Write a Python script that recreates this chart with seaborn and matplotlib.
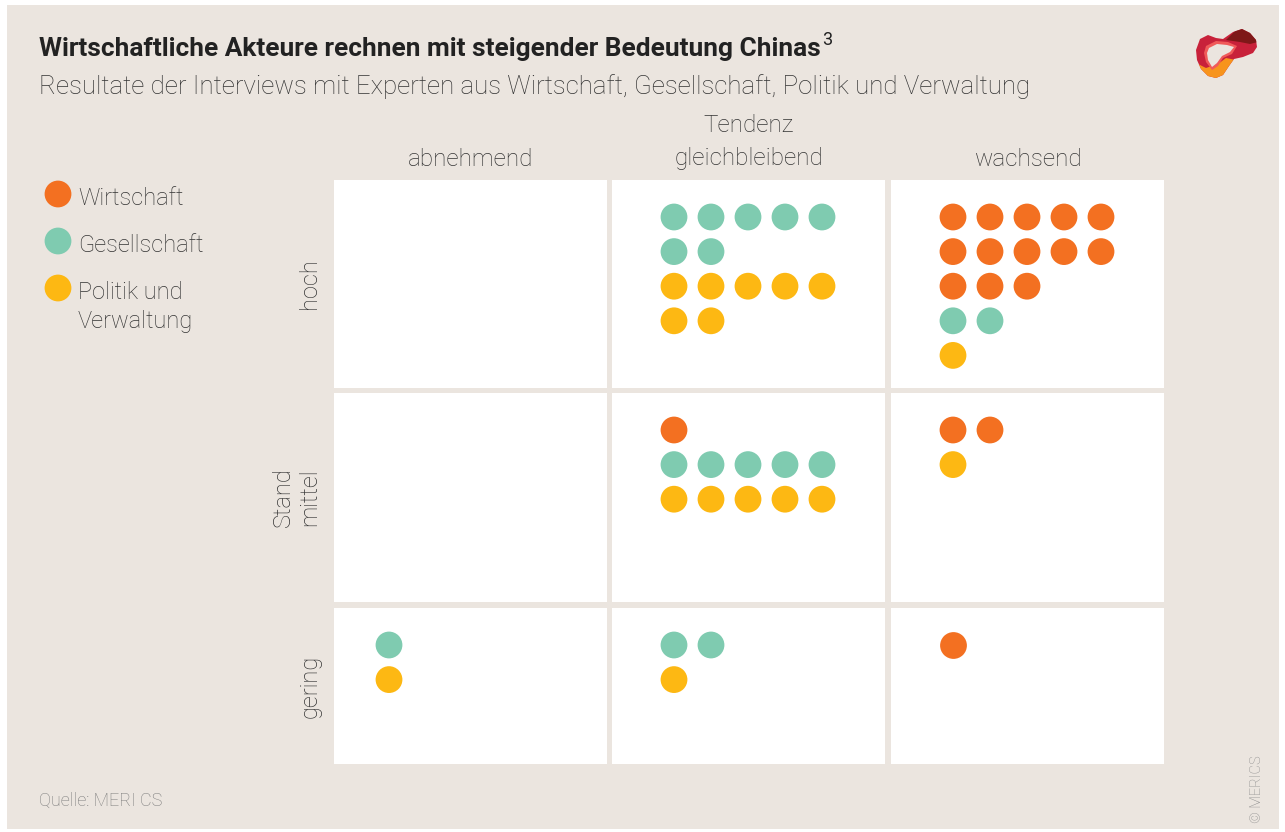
import numpy as np
import pandas as pd
import seaborn as sns
import matplotlib.pyplot as plt
from matplotlib import font_manager
from matplotlib.patches import Rectangle, Polygon

# ---------------- data ----------------
levels = ["hoch", "mittel", "gering"]              # rows (Stand)
trends = ["abnehmend", "gleichbleibend", "wachsend"]  # columns (Tendenz)
groups = ["Wirtschaft", "Gesellschaft", "Politik und Verwaltung"]
legend_lines = [["Wirtschaft"], ["Gesellschaft"], ["Politik und", "Verwaltung"]]

# counts per cell, rows = levels, cols = trends
wirtschaft = [[0, 0, 13],
              [0, 1, 2],
              [0, 0, 1]]
gesellschaft = [[0, 7, 2],
                [0, 5, 0],
                [1, 2, 0]]
politik = [[0, 7, 1],
           [0, 5, 1],
           [1, 1, 0]]
counts = {"Wirtschaft": wirtschaft, "Gesellschaft": gesellschaft,
          "Politik und Verwaltung": politik}

title = "Wirtschaftliche Akteure rechnen mit steigender Bedeutung Chinas"
title_sup = "3"
subtitle = "Resultate der Interviews mit Experten aus Wirtschaft, Gesellschaft, Politik und Verwaltung"
source = "Quelle: MERI CS"
credit = "© MERICS"

colors = ["#F37021", "#7FCBB0", "#FDB813"]
palette = dict(zip(groups, colors))
BEIGE = "#EBE5DF"
TXT = "#333333"

# ---------------- style ----------------
sns.set_theme(style="white")
avail = {f.name for f in font_manager.fontManager.ttflist}
fam = next((f for f in ["Roboto", "Open Sans", "DejaVu Sans"] if f in avail), "DejaVu Sans")
plt.rcParams["font.family"] = [fam, "DejaVu Sans"]

W, H = 1285, 832
fig = plt.figure(figsize=(W / 100, H / 100), dpi=100, facecolor="white")

def rect(x, y, w, h):
    return [x / W, 1 - (y + h) / H, w / W, h / H]

bg = fig.add_axes([0, 0, 1, 1])
bg.set_xlim(0, W)
bg.set_ylim(H, 0)
bg.axis("off")
bg.add_patch(Rectangle((7, 5), 1272, 824, facecolor=BEIGE, edgecolor="none"))

# ---------------- grid of cells ----------------
col_lefts = [334, 612, 891]
col_w = 273
row_tops = [180, 393, 608]
row_hs = [208, 209, 156]
x_first = [55, 62, 62]
y_first = 37
dx, dy = 37, 34.6
per_row = 5

for i, lev in enumerate(levels):
    for j, tr in enumerate(trends):
        recs = []
        r0 = 0
        for g in groups:
            n = counts[g][i][j]
            for k in range(n):
                recs.append({"group": g, "col": k % per_row, "row": r0 + k // per_row})
            r0 += int(np.ceil(n / per_row))
        ax = fig.add_axes(rect(col_lefts[j], row_tops[i], col_w, row_hs[i]))
        ax.set_facecolor("white")
        if recs:
            df = pd.DataFrame(recs)
            sns.scatterplot(data=df, x="col", y="row", hue="group", hue_order=groups,
                            palette=palette, s=372, linewidth=0, legend=False, ax=ax)
        ax.set_xlim(-x_first[j] / dx, (col_w - x_first[j]) / dx)
        ax.set_ylim((row_hs[i] - y_first) / dy, -y_first / dy)
        ax.set_xticks([]); ax.set_yticks([])
        ax.set_xlabel(""); ax.set_ylabel("")
        for s in ax.spines.values():
            s.set_visible(False)

# ---------------- legend ----------------
lax = fig.add_axes(rect(40, 170, 40, 142))
lax.set_facecolor("none")
ldf = pd.DataFrame({"group": groups, "pos": np.arange(len(groups)), "x": 0})
sns.scatterplot(data=ldf, x="x", y="pos", hue="group", hue_order=groups, palette=palette,
                s=372, linewidth=0, legend=False, ax=lax)
lax.set_xlim(-18 / 47, 22 / 47)
lax.set_ylim((142 - 24) / 47, -24 / 47)
lax.axis("off")
for k, lines in enumerate(legend_lines):
    for m, line in enumerate(lines):
        bg.text(78, 205 + 47 * k + 29 * m, line, fontsize=17, fontweight="light",
                color=TXT, va="baseline", ha="left")

# ---------------- texts ----------------
t = bg.text(39, 56, title, fontsize=18.9, fontweight="bold", color="#222222",
            va="baseline", ha="left")
fig.canvas.draw()
bb = t.get_window_extent(renderer=fig.canvas.get_renderer())
bg.text(bb.x1 + 1, 45, title_sup, fontsize=13, fontweight="normal", color="#222222",
        va="baseline", ha="left")
bg.text(39, 94, subtitle, fontsize=18.6, fontweight="light", color=TXT,
        va="baseline", ha="left")
bg.text(748.5, 126, "Tendenz", fontsize=17.5, fontweight="light", color=TXT,
        va="center", ha="center")
for j, tr in enumerate(trends):
    bg.text(col_lefts[j] + col_w / 2, 159, tr, fontsize=17.5, fontweight="light",
            color=TXT, va="center", ha="center")
for i, lev in enumerate(levels):
    bg.text(310, row_tops[i] + row_hs[i] / 2, lev, fontsize=17, fontweight="light",
            color=TXT, va="center", ha="center", rotation=90)
bg.text(283, row_tops[1] + row_hs[1] / 2, "Stand", fontsize=17, fontweight="light",
        color=TXT, va="center", ha="center", rotation=90)
bg.text(39, 806, source, fontsize=13, fontweight="light", color="#7a7a7a",
        va="baseline", ha="left")
bg.text(1257, 789, credit, fontsize=10.5, fontweight="light", color="#8a8a8a",
        va="center", ha="center", rotation=90)

# ---------------- logo ----------------
outer = [(1196, 50), (1200, 39), (1208, 35), (1216, 38), (1223, 39), (1233, 32), (1242, 29),
         (1250, 33), (1256, 40), (1257, 47), (1253, 53), (1243, 57), (1234, 59), (1229, 66),
         (1223, 75), (1216, 78), (1208, 76), (1201, 69), (1197, 60)]
logo = Polygon(outer, closed=True, facecolor="#C8213A", edgecolor="none")
bg.add_patch(logo)
dark = Polygon([(1226, 40), (1238, 28), (1252, 30), (1258, 42), (1250, 44), (1240, 42)],
               closed=True, facecolor="#7E1818", edgecolor="none")
bg.add_patch(dark); dark.set_clip_path(logo)
orange = Polygon([(1194, 62), (1206, 68), (1218, 64), (1226, 58), (1236, 60), (1232, 82),
                  (1194, 82)],
                 closed=True, facecolor="#F7941D", edgecolor="none")
bg.add_patch(orange); orange.set_clip_path(logo)
rim = Polygon([(1206, 46), (1216, 41), (1228, 42), (1237, 46), (1232, 54), (1223, 58),
               (1218, 66), (1212, 70), (1206, 62), (1204, 53)],
              closed=True, facecolor="#F05A5A", edgecolor="none")
bg.add_patch(rim)
hole = Polygon([(1209, 48), (1217, 44), (1227, 45), (1234, 47), (1230, 52), (1222, 56),
                (1217, 63), (1212, 67), (1208, 60), (1207, 53)],
               closed=True, facecolor=BEIGE, edgecolor="none")
bg.add_patch(hole)

fig.savefig("out.png", dpi=100, facecolor="white")
